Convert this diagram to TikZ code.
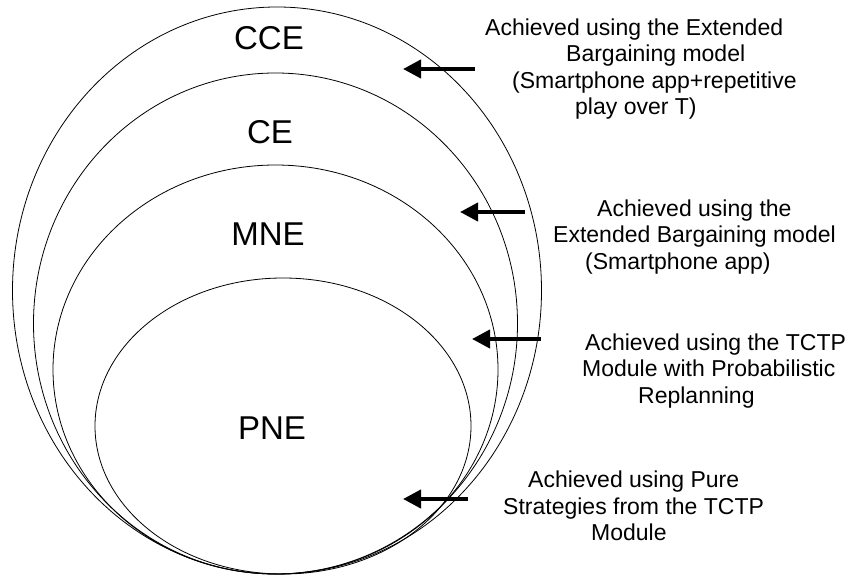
\documentclass[tikz,border=0pt]{standalone}
\usepackage{fontspec}
\setmainfont{Liberation Sans}
\usetikzlibrary{shapes.geometric,arrows.meta}

\begin{document}
\begin{tikzpicture}[x=1pt,y=-1pt,
  ring/.style={draw=black,line width=0.8pt,ellipse,inner sep=0pt,outer sep=0pt},
  setname/.style={font=\fontsize{33}{40}\selectfont,inner sep=0pt},
  note/.style={font=\fontsize{23}{26.5}\selectfont,align=left,anchor=west,inner sep=0pt},
  pointer/.style={line width=4pt,-{Triangle[length=18pt,width=18pt]}}]

  \useasboundingbox (0,0) rectangle (846,577);

  % nested equilibrium sets, all touching at the bottom
  \node[ring,minimum width=529pt,minimum height=567pt] (cce) at (277,290.5) {};
  \node[ring,minimum width=484pt,minimum height=501pt] (ce)  at (275.5,323.5) {};
  \node[ring,minimum width=445pt,minimum height=409pt] (mne) at (275.5,369.5) {};
  \node[ring,minimum width=376pt,minimum height=296pt] (pne) at (283,426) {};

  % set names
  \node[setname] (lcce) at (269,38)  {CCE};
  \node[setname] (lce)  at (270,132) {CE};
  \node[setname] (lmne) at (268,234) {MNE};
  \node[setname] (lpne) at (272,428) {PNE};

  % explanations, each line indented on its own
  \node[note] (t1) at (485,69) {Achieved using the Extended\\
    \hspace*{81pt}Bargaining model\\
    \hspace*{27pt}(Smartphone app+repetitive\\
    \hspace*{90pt}play over T)};
  \node[note] (t2) at (553,237) {\hspace*{44pt}Achieved using the\\
    Extended Bargaining model\\
    \hspace*{32pt}(Smartphone app)};
  \node[note] (t3) at (582,371) {\hspace*{3pt}Achieved using the TCTP\\
    Module with Probabilistic\\
    \hspace*{56pt}Replanning};
  \node[note] (t4) at (503,506) {\hspace*{25pt}Achieved using Pure\\
    Strategies from the TCTP\\
    \hspace*{88pt}Module};

  % arrow ends
  \coordinate (a1s) at (475,69);  \coordinate (a1e) at (403,69);
  \coordinate (a2s) at (525,212); \coordinate (a2e) at (460,212);
  \coordinate (a3s) at (541,339); \coordinate (a3e) at (472,339);
  \coordinate (a4s) at (468,499); \coordinate (a4e) at (403,499);

  \draw[pointer] (a1s) -- (a1e);
  \draw[pointer] (a2s) -- (a2e);
  \draw[pointer] (a3s) -- (a3e);
  \draw[pointer] (a4s) -- (a4e);
\end{tikzpicture}
\end{document}
